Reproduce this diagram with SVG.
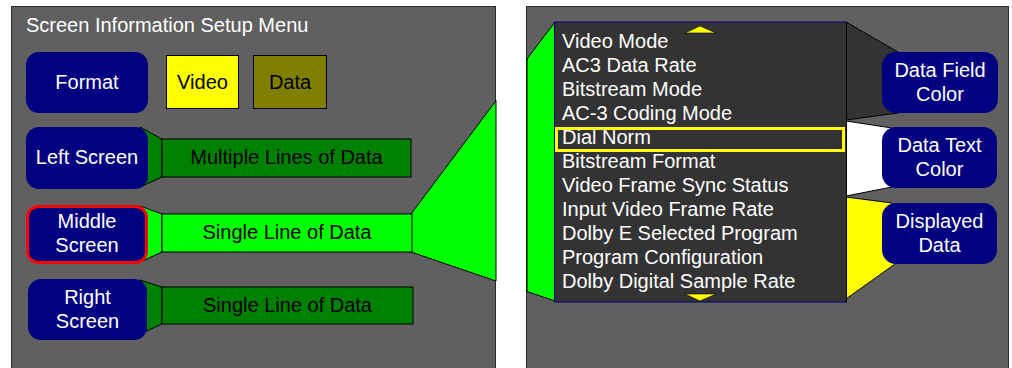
<svg xmlns="http://www.w3.org/2000/svg" width="1012" height="368" viewBox="0 0 1012 368">
<style>
text{font-family:"Liberation Sans",Arial,sans-serif;font-size:20px}
.w{fill:#fff}
.k{fill:#000}
.c{text-anchor:middle}
.btn{fill:#000080}
.edge{stroke:#000;stroke-width:1;stroke-linejoin:miter}
.panel{fill:#606060;stroke:#2a2a2a;stroke-width:1}
</style>
<rect width="1012" height="368" fill="#fff"/>
<rect class="panel" x="11.5" y="6.5" width="484" height="372"/>
<rect class="panel" x="526.5" y="6.5" width="482" height="372"/>
<text class="w" x="26" y="32">Screen Information Setup Menu</text>
<g id="connectors">
<polygon class="edge" points="411,214 496,100.7 496,281 411,252" fill="#00ff00"/>
<polygon class="edge" points="527,59 555,22 555,301 527,291.5" fill="#00ff00"/>
<polygon class="edge" points="140,127 162,139 162,177 140,187" fill="#008000"/>
<polygon class="edge" points="140,206 162,214 162,252 140,262" fill="#00ff00"/>
<polygon class="edge" points="140,280 162,287 162,324 140,334" fill="#008000"/>
<polygon class="edge" points="846,22 898,52 898,113 846,120" fill="#333"/>
<polygon class="edge" points="846,121 892,128 892,187 846,196" fill="#fff"/>
<polygon class="edge" points="846,197 892,203 895,264 846,299" fill="#ff0"/>
</g>
<g id="format"><rect class="btn" x="26" y="52" width="122" height="61" rx="13"/><text class="w c" x="87" y="89">Format</text></g>
<g id="video"><rect x="166.5" y="55.5" width="72" height="53" fill="#ff0" stroke="#000"/><text class="k c" x="202.5" y="89">Video</text></g>
<g id="data"><rect x="253.5" y="55.5" width="73" height="53" fill="#808000" stroke="#000"/><text class="k c" x="290" y="89">Data</text></g>
<g id="left-screen"><rect class="btn" x="26" y="127" width="122" height="62" rx="13"/><text class="w c" x="87" y="164">Left Screen</text></g>
<g id="multiple-lines"><rect class="edge" x="162" y="139" width="249" height="38" fill="#008000"/><text class="k c" x="286.5" y="164">Multiple Lines of Data</text></g>
<g id="middle-screen"><rect class="btn" x="27.5" y="206.5" width="119" height="56" rx="11" stroke="#ff0000" stroke-width="3"/><text class="w c" x="87" y="228">Middle</text><text class="w c" x="87" y="252">Screen</text></g>
<g id="middle-line"><rect class="edge" x="162" y="214" width="250" height="38" fill="#00ff00"/><text class="k c" x="287" y="239">Single Line of Data</text></g>
<g id="right-screen"><rect class="btn" x="28" y="279" width="119" height="61" rx="13"/><text class="w c" x="87.5" y="304">Right</text><text class="w c" x="87.5" y="328">Screen</text></g>
<g id="right-line"><rect class="edge" x="162" y="287" width="251" height="37" fill="#008000"/><text class="k c" x="287.5" y="312">Single Line of Data</text></g>
<g id="menu-list">
<rect x="554.5" y="22" width="292" height="280" fill="#333" stroke="#000080"/>
<line x1="846.5" y1="22" x2="846.5" y2="302" stroke="#000"/>
<polygon points="685,33 700,26 716,33" fill="#ff0" stroke="#000" stroke-width="0.6"/>
<polygon points="685,294 716,294 700,301" fill="#ff0" stroke="#000" stroke-width="0.6"/>
<rect x="556.5" y="128.5" width="287" height="22" fill="none" stroke="#ff0" stroke-width="3"/>
<text class="w" x="562" y="48">Video Mode</text>
<text class="w" x="562" y="72">AC3 Data Rate</text>
<text class="w" x="562" y="96">Bitstream Mode</text>
<text class="w" x="562" y="120">AC-3 Coding Mode</text>
<text class="w" x="562" y="144">Dial Norm</text>
<text class="w" x="562" y="168">Bitstream Format</text>
<text class="w" x="562" y="192">Video Frame Sync Status</text>
<text class="w" x="562" y="216">Input Video Frame Rate</text>
<text class="w" x="562" y="240">Dolby E Selected Program</text>
<text class="w" x="562" y="264">Program Configuration</text>
<text class="w" x="562" y="288">Dolby Digital Sample Rate</text>
</g>
<g id="data-field-color"><rect class="btn" x="882" y="52" width="116" height="61" rx="14"/><text class="w c" x="940" y="77">Data Field</text><text class="w c" x="940" y="101">Color</text></g>
<g id="data-text-color"><rect class="btn" x="882" y="127" width="115" height="61" rx="14"/><text class="w c" x="939.5" y="152">Data Text</text><text class="w c" x="939.5" y="176">Color</text></g>
<g id="displayed-data"><rect class="btn" x="882" y="203" width="115" height="61" rx="14"/><text class="w c" x="939.5" y="228">Displayed</text><text class="w c" x="939.5" y="252">Data</text></g>
</svg>
